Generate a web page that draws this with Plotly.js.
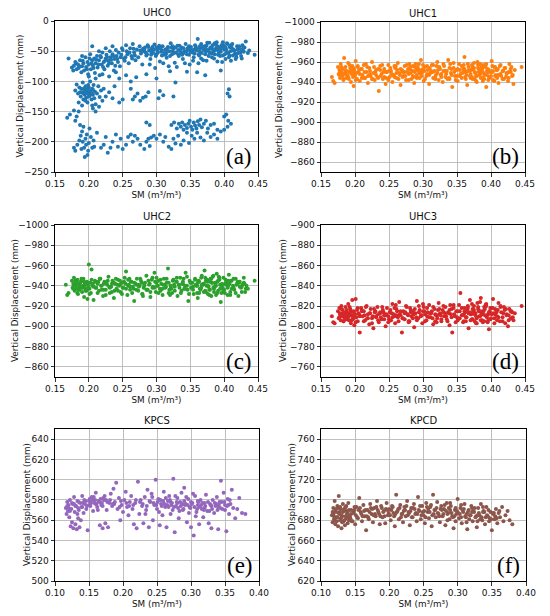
<!DOCTYPE html>
<html><head><meta charset="utf-8">
<script src="https://cdn.plot.ly/plotly-3.0.1.min.js"></script>
<style>html,body{margin:0;padding:0;background:#fff}#chart{width:550px;height:616px}</style>
</head><body><div id="chart"></div>
<script>
// ---------- data (x = SM, y = vertical displacement) ----------
const titles = ["UHC0","UHC1","UHC2","UHC3","KPCS","KPCD"];
const panelLabels = ["(a)","(b)","(c)","(d)","(e)","(f)"];
const colors = ["#1f77b4","#ff7f0e","#2ca02c","#d62728","#9467bd","#8c564b"];
const xTitle = "SM (m³/m³)";
const yTitle = "Vertical Displacement (mm)";

const uhc0Points = [
[0.250,-48],[0.252,-62],[0.255,-40],[0.257,-55],[0.259,-70],[0.261,-45],[0.263,-58],[0.265,-38],[0.267,-52],[0.269,-65],[0.271,-47],[0.273,-60],[0.275,-42],[0.277,-54],[0.279,-72],[0.281,-50],[0.283,-44],[0.285,-57],[0.287,-40],[0.289,-49],[0.291,-63],[0.293,-46],[0.295,-53],[0.297,-39],[0.299,-58],[0.301,-48],[0.303,-44],[0.305,-67],[0.307,-51],[0.309,-42],[0.311,-56],[0.313,-47],[0.315,-61],[0.317,-43],[0.319,-50],[0.321,-37],[0.323,-55],[0.325,-46],[0.327,-69],[0.329,-52],[0.331,-41],[0.333,-58],[0.335,-48],[0.337,-44],[0.339,-63],[0.341,-50],[0.343,-38],[0.345,-55],[0.347,-47],[0.349,-72],[0.351,-43],[0.353,-52],[0.355,-60],[0.357,-40],[0.359,-49],[0.361,-30],[0.363,-57],[0.365,-45],[0.367,-53],[0.369,-65],[0.371,-42],[0.373,-50],[0.375,-36],[0.377,-58],[0.379,-46],[0.381,-54],[0.383,-40],[0.385,-62],[0.387,-48],[0.389,-35],[0.391,-56],[0.393,-44],[0.395,-51],[0.397,-68],[0.399,-41],[0.401,-55],[0.403,-47],[0.405,-38],[0.407,-60],[0.409,-50],[0.411,-44],[0.413,-57],[0.415,-49],[0.417,-63],[0.419,-42],[0.421,-53],[0.423,-46],[0.425,-58],[0.427,-40],[0.429,-51],[0.432,-34],[0.435,-53],[0.437,-49],[0.445,-56],
[0.280,-46],[0.284,-52],[0.288,-43],[0.292,-50],[0.296,-47],[0.300,-55],[0.304,-41],[0.308,-49],[0.312,-53],[0.316,-45],[0.320,-58],[0.324,-50],[0.328,-44],[0.332,-48],[0.336,-53],[0.340,-45],[0.344,-50],[0.348,-42],[0.352,-48],[0.356,-54],[0.360,-46],[0.364,-50],[0.368,-43],[0.372,-55],[0.376,-48],[0.380,-44],[0.384,-51],[0.388,-45],[0.392,-49],[0.396,-40],[0.400,-47],[0.404,-52],[0.408,-43],[0.412,-49],[0.416,-54],[0.420,-47],[0.424,-52],[0.428,-45],[0.382,-60],[0.386,-37],[0.394,-58],[0.398,-35],[0.402,-63],[0.366,-62],[0.354,-66],[0.342,-70],[0.318,-75],[0.298,-78],[0.290,-72],[0.310,-70],[0.330,-76],[0.362,-70],[0.374,-66],[0.390,-67],[0.410,-66],[0.418,-60],[0.426,-62],
[0.282,-48],[0.286,-55],[0.294,-43],[0.302,-52],[0.306,-46],[0.314,-55],[0.322,-44],[0.326,-53],[0.334,-41],[0.338,-56],[0.346,-45],[0.350,-51],[0.358,-43],[0.362,-55],[0.370,-48],[0.374,-41],[0.378,-52],[0.382,-46],[0.386,-55],[0.390,-42],[0.394,-48],[0.398,-57],[0.402,-44],[0.406,-53],[0.410,-40],[0.414,-47],[0.418,-55],[0.422,-42],[0.426,-50],[0.430,-44],[0.366,-38],[0.378,-36],[0.388,-39],[0.396,-45],[0.404,-37],[0.384,-47],[0.392,-53],[0.400,-42],[0.408,-57],[0.412,-38],[0.372,-45],[0.364,-42],[0.356,-47],[0.348,-56],[0.340,-53],[0.332,-55],[0.324,-42],[0.316,-51],[0.308,-57],[0.300,-44],[0.292,-56],[0.276,-49],[0.268,-57],[0.260,-52],[0.254,-60],
[0.230,-92],[0.240,-85],[0.245,-95],[0.255,-90],[0.262,-100],[0.270,-93],[0.285,-88],[0.300,-95],[0.320,-83],[0.345,-84],[0.360,-85],[0.372,-90],[0.395,-82],
[0.170,-62],[0.175,-77],[0.177,-82],[0.178,-74],[0.180,-68],[0.182,-80],[0.184,-72],[0.185,-78],[0.187,-65],[0.189,-85],[0.190,-75],[0.192,-70],[0.193,-82],[0.195,-60],[0.196,-76],[0.198,-68],[0.199,-88],[0.200,-72],[0.202,-55],[0.203,-80],[0.205,-65],[0.206,-74],[0.208,-62],[0.209,-86],[0.210,-70],[0.212,-58],[0.213,-77],[0.215,-65],[0.216,-90],[0.218,-60],[0.219,-72],[0.220,-52],[0.222,-68],[0.223,-80],[0.225,-62],[0.226,-56],[0.228,-74],[0.229,-66],[0.231,-50],[0.232,-60],[0.234,-70],[0.235,-55],[0.237,-82],[0.238,-63],[0.240,-48],[0.241,-58],[0.243,-68],[0.244,-52],[0.246,-75],[0.247,-60],[0.249,-45],[0.205,-42],[0.215,-50],[0.225,-45],[0.235,-42],[0.190,-58],[0.210,-95],[0.220,-88],[0.200,-92],
[0.181,-70],[0.186,-75],[0.191,-66],[0.197,-80],[0.201,-62],[0.204,-70],[0.207,-78],[0.211,-64],[0.214,-72],[0.217,-58],[0.221,-76],[0.224,-66],[0.227,-60],[0.230,-70],[0.233,-64],[0.236,-58],[0.239,-74],[0.242,-63],[0.248,-56],[0.253,-66],[0.256,-50],[0.264,-62],[0.266,-46],
[0.180,-115],[0.182,-105],[0.184,-120],[0.186,-110],[0.188,-125],[0.190,-118],[0.191,-102],[0.192,-130],[0.193,-112],[0.194,-122],[0.195,-108],[0.196,-127],[0.197,-116],[0.198,-135],[0.199,-120],[0.200,-110],[0.201,-124],[0.202,-100],[0.203,-118],[0.204,-130],[0.205,-112],[0.206,-122],[0.207,-106],[0.208,-128],[0.209,-117],[0.210,-138],[0.212,-120],[0.214,-108],[0.216,-126],[0.218,-115],[0.220,-132],[0.222,-112],[0.225,-125],[0.230,-118],[0.235,-128],[0.238,-108],[0.245,-135],[0.250,-130],[0.190,-140],[0.195,-132],[0.205,-140],[0.185,-135],
[0.187,-118],[0.189,-112],[0.192,-120],[0.194,-115],[0.196,-119],[0.198,-113],[0.200,-125],[0.202,-116],[0.204,-121],[0.206,-114],[0.199,-106],
[0.262,-112],[0.265,-130],[0.268,-125],[0.272,-120],[0.276,-132],[0.280,-127],[0.284,-125],[0.288,-118],[0.303,-128],[0.305,-116],[0.310,-123],[0.325,-125],[0.328,-102],
[0.168,-160],[0.172,-155],[0.178,-148],[0.180,-165],[0.182,-158],[0.185,-150],[0.187,-172],[0.188,-190],[0.190,-183],[0.191,-200],[0.192,-175],[0.193,-210],[0.195,-195],[0.196,-205],[0.197,-188],[0.199,-215],[0.200,-202],[0.201,-178],[0.203,-192],[0.205,-210],[0.206,-145],[0.207,-198],[0.210,-150],[0.212,-185],[0.178,-210],[0.180,-215],[0.183,-205],[0.186,-198],[0.189,-212],[0.194,-225],[0.198,-222],[0.208,-208],[0.215,-142],
[0.218,-210],[0.222,-205],[0.225,-192],[0.228,-218],[0.232,-210],[0.235,-200],[0.240,-188],[0.243,-208],[0.247,-195],[0.250,-212],[0.255,-205],[0.258,-192],[0.262,-188],[0.265,-200],[0.268,-190],[0.272,-195],[0.276,-205],[0.282,-212],[0.285,-200],[0.288,-195],[0.290,-207],[0.292,-193],[0.296,-190],[0.300,-195],[0.305,-188],[0.310,-200],[0.313,-192],[0.318,-208],[0.322,-212],[0.325,-195],[0.328,-203],[0.332,-190],[0.336,-205],[0.340,-198],[0.345,-185],[0.348,-202],[0.352,-190],[0.356,-195],[0.360,-185],[0.365,-193],[0.370,-198],[0.375,-185],[0.380,-192],[0.385,-188],[0.390,-195],[0.395,-183],[0.400,-180],[0.405,-175],
[0.285,-168],[0.290,-172],[0.330,-178],[0.333,-170],[0.336,-175],[0.338,-168],[0.340,-180],[0.342,-172],[0.345,-177],[0.347,-170],[0.349,-165],[0.351,-175],[0.353,-180],[0.355,-168],[0.357,-173],[0.359,-178],[0.361,-166],[0.363,-172],[0.365,-163],[0.367,-176],[0.370,-170],[0.373,-165],[0.376,-178],[0.380,-172],[0.385,-170],[0.390,-180],[0.322,-172],[0.326,-168],
[0.400,-158],[0.403,-155],[0.405,-120],[0.407,-113],[0.408,-125],[0.410,-170],[0.406,-165]
];

const uhc1Points = [
[0.166,-945],[0.168,-941],[0.170,-939],[0.175,-955],[0.176,-948],[0.177,-952],[0.178,-944],[0.179,-958],[0.180,-950],[0.181,-946],[0.182,-953],[0.183,-942],[0.184,-964],[0.185,-949],[0.186,-955],[0.187,-944],[0.188,-951],[0.189,-947],[0.190,-959],[0.191,-943],[0.192,-950],[0.193,-954],[0.194,-940],[0.195,-948],[0.196,-956],[0.197,-945],[0.198,-936],[0.199,-952],[0.200,-946],[0.201,-961],[0.202,-949],[0.203,-943],[0.204,-955],[0.205,-950],[0.207,-941],[0.209,-953],[0.211,-947],[0.213,-957],[0.215,-944],[0.217,-950],[0.219,-939],[0.221,-954],[0.223,-946],[0.225,-960],[0.227,-949],[0.229,-942],[0.231,-952],[0.233,-945],[0.235,-931],[0.237,-956],[0.239,-948],[0.241,-943],[0.243,-953],[0.245,-938],[0.247,-950],[0.249,-957],[0.251,-945],[0.253,-951],[0.255,-940],[0.257,-947],[0.259,-954],[0.261,-944],[0.263,-959],[0.265,-949],[0.267,-937],[0.269,-952],[0.271,-946],[0.273,-956],[0.275,-942],[0.277,-950],[0.279,-948],[0.281,-955],[0.283,-943],[0.285,-951],[0.287,-939],[0.289,-958],[0.291,-947],[0.293,-953],[0.295,-944],[0.297,-962],[0.299,-950],[0.301,-941],[0.303,-955],[0.305,-946],[0.307,-952],[0.309,-938],[0.311,-949],[0.313,-957],[0.315,-944],[0.317,-951],[0.319,-947],[0.321,-960],[0.323,-942],[0.325,-953],[0.327,-948],[0.329,-940],[0.331,-956],[0.333,-945],[0.335,-951],[0.337,-962],[0.339,-943],[0.341,-949],[0.343,-935],[0.345,-954],[0.347,-946],[0.349,-952],[0.351,-941],[0.353,-958],[0.355,-948],[0.357,-944],[0.359,-953],[0.361,-965],[0.363,-950],[0.365,-937],[0.367,-955],[0.369,-946],[0.371,-952],[0.373,-943],[0.375,-959],[0.377,-949],[0.379,-940],[0.381,-954],[0.383,-947],[0.385,-951],[0.387,-944],[0.389,-957],[0.391,-948],[0.393,-935],[0.395,-953],[0.397,-945],[0.399,-950],[0.401,-961],[0.403,-942],[0.405,-955],[0.407,-947],[0.409,-952],[0.411,-939],[0.413,-956],[0.415,-946],[0.417,-951],[0.419,-943],[0.421,-954],[0.423,-948],[0.425,-941],[0.427,-958],[0.429,-950],[0.431,-946],[0.433,-938],[0.435,-952],[0.445,-955],
[0.178,-950],[0.182,-947],[0.186,-951],[0.190,-945],[0.194,-953],[0.198,-949],[0.206,-952],[0.210,-944],[0.214,-950],[0.218,-955],[0.222,-948],[0.226,-943],[0.230,-950],[0.234,-953],[0.238,-946],[0.242,-950],[0.246,-944],[0.250,-951],[0.254,-948],[0.258,-945],[0.262,-952],[0.266,-947],[0.270,-950],[0.274,-946],[0.278,-953],[0.282,-949],[0.286,-945],[0.290,-952],[0.294,-950],[0.298,-946],[0.302,-951],[0.306,-948],[0.310,-954],[0.314,-950],[0.318,-945],[0.322,-952],[0.326,-947],[0.330,-951],[0.334,-948],[0.338,-944],[0.342,-953],[0.346,-950],[0.350,-946],[0.354,-952],[0.358,-949],[0.362,-945],[0.366,-951],[0.370,-948],[0.374,-953],[0.378,-946],[0.382,-950],[0.386,-955],[0.390,-947],[0.394,-951],[0.398,-944],[0.402,-950],[0.406,-946],[0.410,-953],[0.414,-948],[0.418,-951],[0.422,-945],[0.426,-950],[0.430,-955],[0.372,-957],[0.376,-943],[0.384,-958],[0.388,-941],[0.392,-956],[0.396,-942],[0.380,-960],[0.360,-957],[0.340,-958],[0.320,-956],[0.300,-957],[0.280,-958],[0.260,-956],
[0.177,-947],[0.180,-955],[0.183,-943],[0.186,-948],[0.189,-945],[0.192,-957],[0.195,-951],[0.198,-954],[0.201,-942],[0.204,-956],[0.207,-948],[0.210,-953],[0.213,-944],[0.216,-958],[0.219,-946],[0.222,-951],[0.225,-943],[0.228,-955],[0.231,-947],[0.234,-944],[0.237,-952],[0.240,-957],[0.243,-945],[0.246,-950],[0.249,-942],[0.252,-954],[0.255,-947],[0.258,-956],[0.261,-949],[0.264,-943],[0.267,-953],[0.270,-945],[0.273,-950],[0.276,-957],[0.279,-942],[0.282,-952],[0.285,-946],[0.288,-955],[0.291,-944],[0.294,-958],[0.297,-948],[0.300,-953],[0.303,-943],[0.306,-956],[0.309,-947],[0.312,-951],[0.315,-957],[0.318,-943],[0.321,-949],[0.324,-955],[0.327,-945],[0.330,-958],[0.333,-951],[0.336,-943],[0.339,-954],[0.342,-947],[0.345,-959],[0.348,-942],[0.351,-953],[0.354,-946],[0.357,-956],[0.360,-950],[0.363,-943],[0.366,-958],[0.369,-952],[0.372,-945],[0.375,-954],[0.378,-941],[0.381,-957],[0.384,-948],[0.387,-953],[0.390,-943],[0.393,-958],[0.396,-950],[0.399,-945],[0.402,-956],[0.405,-941],[0.408,-952],[0.411,-947],[0.414,-957],[0.417,-943],[0.420,-954],[0.423,-949],[0.426,-944],[0.429,-953],[0.432,-947],
[0.361,-953],[0.364,-947],[0.367,-951],[0.370,-944],[0.373,-955],[0.376,-950],[0.379,-946],[0.382,-953],[0.385,-944],[0.388,-950],[0.391,-955],[0.394,-947],[0.397,-952],[0.400,-946],[0.403,-951],[0.406,-955],[0.409,-944],[0.292,-955],[0.295,-949],[0.298,-952],[0.291,-945],[0.288,-950],[0.285,-956]
];

const uhc2Points = [
[0.166,-941],[0.168,-931],[0.170,-933],[0.175,-945],[0.176,-938],[0.177,-942],[0.178,-948],[0.179,-935],[0.180,-940],[0.181,-944],[0.182,-937],[0.183,-946],[0.184,-932],[0.185,-941],[0.186,-936],[0.187,-943],[0.188,-939],[0.189,-947],[0.190,-934],[0.191,-940],[0.192,-945],[0.193,-929],[0.194,-938],[0.195,-942],[0.196,-936],[0.197,-944],[0.198,-927],[0.199,-940],[0.200,-961],[0.201,-937],[0.202,-943],[0.203,-933],[0.204,-956],[0.205,-940],[0.207,-926],[0.209,-945],[0.211,-938],[0.213,-942],[0.215,-935],[0.217,-947],[0.219,-940],[0.221,-930],[0.223,-944],[0.225,-936],[0.227,-941],[0.229,-949],[0.231,-933],[0.233,-939],[0.235,-945],[0.237,-928],[0.239,-942],[0.241,-937],[0.243,-946],[0.245,-940],[0.247,-934],[0.249,-943],[0.251,-938],[0.253,-948],[0.255,-954],[0.257,-931],[0.259,-941],[0.261,-936],[0.263,-944],[0.265,-939],[0.267,-925],[0.269,-942],[0.271,-947],[0.273,-935],[0.275,-940],[0.277,-945],[0.279,-932],[0.281,-938],[0.283,-943],[0.285,-950],[0.287,-936],[0.289,-941],[0.291,-929],[0.293,-946],[0.295,-939],[0.297,-953],[0.299,-934],[0.301,-940],[0.303,-945],[0.305,-937],[0.307,-942],[0.309,-931],[0.311,-947],[0.313,-938],[0.315,-943],[0.317,-957],[0.319,-936],[0.321,-940],[0.323,-933],[0.325,-946],[0.327,-939],[0.329,-944],[0.331,-930],[0.333,-941],[0.335,-948],[0.337,-935],[0.339,-942],[0.341,-937],[0.343,-953],[0.345,-940],[0.347,-925],[0.349,-945],[0.351,-938],[0.353,-943],[0.355,-932],[0.357,-947],[0.359,-940],[0.361,-928],[0.363,-944],[0.365,-936],[0.367,-950],[0.369,-941],[0.371,-955],[0.373,-934],[0.375,-946],[0.377,-939],[0.379,-944],[0.381,-930],[0.383,-949],[0.385,-937],[0.387,-942],[0.389,-952],[0.391,-935],[0.393,-946],[0.395,-924],[0.397,-940],[0.399,-948],[0.401,-933],[0.403,-943],[0.405,-938],[0.407,-951],[0.409,-931],[0.411,-945],[0.413,-940],[0.415,-936],[0.417,-947],[0.419,-942],[0.421,-930],[0.423,-944],[0.425,-938],[0.427,-941],[0.429,-948],[0.431,-934],[0.433,-940],[0.435,-937],[0.445,-945],
[0.178,-940],[0.182,-943],[0.186,-939],[0.190,-945],[0.194,-941],[0.198,-937],[0.206,-942],[0.210,-938],[0.214,-944],[0.218,-940],[0.222,-936],[0.226,-943],[0.230,-939],[0.234,-942],[0.238,-935],[0.242,-941],[0.246,-945],[0.250,-938],[0.254,-942],[0.258,-940],[0.262,-944],[0.266,-937],[0.270,-941],[0.274,-939],[0.278,-943],[0.282,-940],[0.286,-936],[0.290,-942],[0.294,-938],[0.298,-944],[0.302,-940],[0.306,-935],[0.310,-941],[0.314,-939],[0.318,-943],[0.322,-937],[0.326,-941],[0.330,-944],[0.334,-938],[0.338,-942],[0.342,-940],[0.346,-936],[0.350,-943],[0.354,-939],[0.358,-941],[0.362,-945],[0.366,-938],[0.370,-942],[0.374,-940],[0.378,-936],[0.382,-943],[0.386,-939],[0.390,-944],[0.394,-941],[0.398,-937],[0.402,-942],[0.406,-940],[0.410,-945],[0.414,-938],[0.418,-941],[0.422,-943],[0.426,-939],[0.430,-942],[0.372,-948],[0.376,-932],[0.384,-950],[0.388,-931],[0.392,-949],[0.396,-933],[0.380,-947],[0.360,-933],[0.340,-947],[0.320,-931],[0.300,-948],[0.280,-930],[0.260,-947],
[0.177,-937],[0.180,-945],[0.183,-933],[0.186,-942],[0.189,-938],[0.192,-947],[0.195,-935],[0.198,-943],[0.201,-932],[0.204,-946],[0.207,-939],[0.210,-944],[0.213,-933],[0.216,-947],[0.219,-936],[0.222,-942],[0.225,-931],[0.228,-945],[0.231,-938],[0.234,-934],[0.237,-943],[0.240,-947],[0.243,-935],[0.246,-941],[0.249,-932],[0.252,-944],[0.255,-937],[0.258,-946],[0.261,-939],[0.264,-933],[0.267,-943],[0.270,-936],[0.273,-941],[0.276,-947],[0.279,-932],[0.282,-942],[0.285,-936],[0.288,-945],[0.291,-934],[0.294,-948],[0.297,-938],[0.300,-943],[0.303,-933],[0.306,-946],[0.309,-937],[0.312,-941],[0.315,-947],[0.318,-933],[0.321,-939],[0.324,-945],[0.327,-935],[0.330,-948],[0.333,-941],[0.336,-933],[0.339,-944],[0.342,-937],[0.345,-949],[0.348,-932],[0.351,-943],[0.354,-936],[0.357,-946],[0.360,-940],[0.363,-933],[0.366,-948],[0.369,-942],[0.372,-935],[0.375,-944],[0.378,-931],[0.381,-947],[0.384,-938],[0.387,-943],[0.390,-933],[0.393,-948],[0.396,-940],[0.399,-935],[0.402,-946],[0.405,-931],[0.408,-942],[0.411,-937],[0.414,-947],[0.417,-933],[0.420,-944],[0.423,-939],[0.426,-934],[0.429,-943],[0.432,-937],
[0.361,-943],[0.364,-937],[0.367,-941],[0.370,-934],[0.373,-945],[0.376,-940],[0.379,-936],[0.382,-943],[0.385,-934],[0.388,-940],[0.391,-945],[0.394,-937],[0.397,-942],[0.400,-936],[0.403,-941],[0.406,-945],[0.409,-934],[0.182,-941],[0.185,-936],[0.188,-944],[0.191,-938],[0.194,-943],[0.197,-935]
];

const uhc3Points = [
[0.166,-810],[0.168,-804],[0.170,-803],[0.175,-815],[0.176,-808],[0.177,-818],[0.178,-812],[0.179,-806],[0.180,-820],[0.181,-811],[0.182,-816],[0.183,-805],[0.184,-813],[0.185,-809],[0.186,-819],[0.187,-807],[0.188,-814],[0.189,-810],[0.190,-822],[0.191,-806],[0.192,-813],[0.193,-817],[0.194,-803],[0.195,-811],[0.196,-826],[0.197,-808],[0.198,-815],[0.199,-801],[0.200,-812],[0.201,-827],[0.202,-809],[0.203,-816],[0.204,-805],[0.205,-813],[0.207,-794],[0.209,-818],[0.211,-810],[0.213,-815],[0.215,-806],[0.217,-820],[0.219,-812],[0.221,-802],[0.223,-817],[0.225,-808],[0.227,-798],[0.229,-814],[0.231,-809],[0.233,-819],[0.235,-804],[0.237,-813],[0.239,-807],[0.241,-816],[0.243,-811],[0.245,-800],[0.247,-818],[0.249,-810],[0.251,-814],[0.253,-806],[0.255,-822],[0.257,-812],[0.259,-803],[0.261,-817],[0.263,-809],[0.265,-824],[0.267,-811],[0.269,-794],[0.271,-815],[0.273,-807],[0.275,-820],[0.277,-812],[0.279,-805],[0.281,-818],[0.283,-810],[0.285,-815],[0.287,-799],[0.289,-813],[0.291,-825],[0.293,-808],[0.295,-816],[0.297,-811],[0.299,-803],[0.301,-819],[0.303,-812],[0.305,-806],[0.307,-814],[0.309,-821],[0.311,-809],[0.313,-815],[0.315,-802],[0.317,-817],[0.319,-811],[0.321,-808],[0.323,-823],[0.325,-813],[0.327,-805],[0.329,-816],[0.331,-810],[0.333,-819],[0.335,-807],[0.337,-814],[0.339,-801],[0.341,-812],[0.343,-794],[0.345,-818],[0.347,-810],[0.349,-815],[0.351,-806],[0.353,-821],[0.355,-833],[0.357,-811],[0.359,-804],[0.361,-818],[0.363,-809],[0.365,-816],[0.367,-798],[0.369,-826],[0.371,-812],[0.373,-807],[0.375,-820],[0.377,-813],[0.379,-803],[0.381,-817],[0.383,-810],[0.385,-828],[0.387,-806],[0.389,-815],[0.391,-811],[0.393,-822],[0.395,-804],[0.397,-797],[0.399,-818],[0.401,-812],[0.403,-827],[0.405,-808],[0.407,-816],[0.409,-810],[0.411,-823],[0.413,-805],[0.415,-814],[0.417,-809],[0.419,-819],[0.421,-803],[0.423,-812],[0.425,-800],[0.427,-817],[0.429,-808],[0.431,-814],[0.433,-806],[0.435,-813],[0.445,-820],
[0.178,-813],[0.182,-810],[0.186,-814],[0.190,-811],[0.194,-815],[0.198,-809],[0.206,-812],[0.210,-816],[0.214,-811],[0.218,-808],[0.222,-813],[0.226,-810],[0.230,-815],[0.234,-812],[0.238,-809],[0.242,-814],[0.246,-811],[0.250,-807],[0.254,-813],[0.258,-810],[0.262,-815],[0.266,-812],[0.270,-808],[0.274,-814],[0.278,-811],[0.282,-816],[0.286,-812],[0.290,-809],[0.294,-814],[0.298,-811],[0.302,-815],[0.306,-810],[0.310,-813],[0.314,-808],[0.318,-812],[0.322,-816],[0.326,-811],[0.330,-814],[0.334,-810],[0.338,-813],[0.342,-817],[0.346,-812],[0.350,-809],[0.354,-815],[0.358,-811],[0.362,-814],[0.366,-818],[0.370,-812],[0.374,-815],[0.378,-810],[0.382,-816],[0.386,-813],[0.390,-819],[0.394,-811],[0.398,-815],[0.402,-818],[0.406,-812],[0.410,-816],[0.414,-820],[0.418,-813],[0.422,-817],[0.426,-811],[0.430,-815],[0.372,-822],[0.376,-805],[0.384,-824],[0.388,-804],[0.392,-821],[0.396,-806],[0.380,-823],[0.360,-805],[0.340,-821],[0.320,-804],[0.300,-822],[0.280,-805],[0.260,-821],
[0.177,-809],[0.180,-817],[0.183,-805],[0.186,-812],[0.189,-808],[0.192,-819],[0.195,-806],[0.198,-814],[0.201,-804],[0.204,-818],[0.207,-810],[0.210,-815],[0.213,-805],[0.216,-819],[0.219,-808],[0.222,-813],[0.225,-803],[0.228,-817],[0.231,-810],[0.234,-806],[0.237,-814],[0.240,-819],[0.243,-807],[0.246,-812],[0.249,-804],[0.252,-816],[0.255,-809],[0.258,-818],[0.261,-811],[0.264,-805],[0.267,-815],[0.270,-808],[0.273,-813],[0.276,-819],[0.279,-804],[0.282,-814],[0.285,-808],[0.288,-817],[0.291,-806],[0.294,-820],[0.297,-810],[0.300,-815],[0.303,-805],[0.306,-818],[0.309,-809],[0.312,-813],[0.315,-819],[0.318,-805],[0.321,-811],[0.324,-817],[0.327,-807],[0.330,-820],[0.333,-813],[0.336,-805],[0.339,-816],[0.342,-809],[0.345,-821],[0.348,-804],[0.351,-815],[0.354,-808],[0.357,-818],[0.360,-812],[0.363,-805],[0.366,-820],[0.369,-814],[0.372,-807],[0.375,-816],[0.378,-803],[0.381,-819],[0.384,-810],[0.387,-815],[0.390,-805],[0.393,-820],[0.396,-812],[0.399,-807],[0.402,-818],[0.405,-803],[0.408,-814],[0.411,-809],[0.414,-819],[0.417,-805],[0.420,-816],[0.423,-811],[0.426,-806],[0.429,-815],[0.432,-809],
[0.361,-815],[0.364,-809],[0.367,-813],[0.370,-806],[0.373,-817],[0.376,-812],[0.379,-808],[0.382,-815],[0.385,-806],[0.388,-812],[0.391,-817],[0.394,-809],[0.397,-814],[0.400,-808],[0.403,-813],[0.406,-817],[0.409,-806],[0.182,-813],[0.185,-808],[0.188,-816],[0.191,-810],[0.194,-815],[0.197,-807]
];

const kpcsPoints = [
[0.116,572],[0.117,566],[0.118,578],[0.119,569],[0.120,575],[0.121,563],[0.122,580],[0.123,554],[0.124,571],[0.125,558],[0.126,576],[0.127,552],[0.128,583],[0.129,568],[0.130,556],[0.131,574],[0.132,551],[0.133,579],[0.134,562],[0.135,570],[0.136,553],[0.137,577],[0.138,560],[0.139,573],[0.140,584],[0.142,567],[0.144,576],[0.146,571],[0.148,550],[0.150,579],[0.152,574],[0.154,583],[0.156,569],[0.158,577],[0.160,587],[0.162,573],[0.164,579],[0.166,555],[0.168,575],[0.170,552],[0.172,580],[0.174,557],[0.176,570],[0.178,553],[0.180,577],[0.182,586],[0.184,574],[0.186,591],[0.188,578],[0.190,597],[0.192,571],[0.194,582],[0.196,560],[0.198,575],[0.200,568],[0.202,580],[0.204,588],[0.206,573],[0.208,565],[0.210,578],[0.212,584],[0.214,571],[0.216,556],[0.218,577],[0.220,552],[0.222,598],[0.224,566],[0.226,580],[0.228,574],[0.230,557],[0.232,583],[0.234,570],[0.236,590],[0.238,553],[0.240,578],[0.242,586],[0.244,560],[0.246,575],[0.248,600],[0.250,571],[0.252,581],[0.254,555],[0.256,576],[0.258,565],[0.260,588],[0.262,573],[0.264,553],[0.266,579],[0.268,584],[0.270,566],[0.272,577],[0.274,601],[0.276,548],[0.278,574],[0.280,582],[0.282,562],[0.284,578],[0.286,587],[0.288,570],[0.290,592],[0.292,576],[0.294,558],[0.296,581],[0.298,573],[0.300,553],[0.302,577],[0.304,545],[0.306,584],[0.308,568],[0.310,575],[0.312,556],[0.314,580],[0.316,571],[0.318,563],[0.320,577],[0.322,585],[0.324,569],[0.326,557],[0.328,576],[0.330,552],[0.332,580],[0.334,567],[0.336,574],[0.338,583],[0.340,551],[0.342,578],[0.344,599],[0.346,571],[0.348,587],[0.350,575],[0.352,549],[0.354,581],[0.356,566],[0.358,576],[0.360,590],[0.362,572],[0.365,562],[0.368,571],[0.371,582],[0.375,567],[0.380,566],
[0.120,572],[0.125,577],[0.130,574],[0.135,578],[0.140,573],[0.145,579],[0.150,575],[0.155,580],[0.160,576],[0.165,578],[0.170,574],[0.175,580],[0.185,576],[0.195,573],[0.205,577],[0.215,575],[0.225,578],[0.235,574],[0.245,577],[0.255,580],[0.265,575],[0.270,578],[0.275,573],[0.280,577],[0.285,574],[0.290,579],[0.295,575],[0.300,578],[0.305,573],[0.310,579],[0.315,575],[0.320,572],[0.325,578],[0.330,574],[0.335,577],[0.340,573],[0.345,578],[0.350,570],[0.355,575],[0.277,584],[0.283,569],[0.293,583],[0.297,567],[0.303,586],[0.307,564],[0.263,582],[0.253,568],[0.243,583],[0.233,566],[0.157,583],[0.163,570],[0.173,584],[0.143,580],[0.133,566],
[0.118,574],[0.122,569],[0.128,576],[0.134,572],[0.141,577],[0.147,574],[0.151,581],[0.153,577],[0.159,580],[0.161,576],[0.167,581],[0.169,577],[0.171,582],[0.177,578],[0.181,580],[0.187,576],[0.197,579],[0.209,574],[0.219,580],[0.229,576],[0.239,579],[0.249,575],[0.251,578],[0.257,574],[0.259,579],[0.261,576],[0.267,573],[0.269,580],[0.271,575],[0.273,570],[0.279,578],[0.281,572],[0.287,576],[0.289,571],[0.291,575],[0.299,572],[0.301,576],[0.309,571],[0.311,578],[0.313,573],[0.317,577],[0.319,570],[0.321,574],[0.327,569],[0.329,575],[0.331,571],[0.337,576],[0.339,570],[0.341,575],[0.343,572],[0.349,578],[0.353,574],[0.357,580]
];

const kpcdPoints = [
[0.116,685],[0.117,678],[0.118,692],[0.119,681],[0.120,699],[0.121,676],[0.122,688],[0.123,683],[0.124,694],[0.125,674],[0.126,704],[0.127,686],[0.128,680],[0.129,691],[0.130,672],[0.131,684],[0.132,696],[0.133,679],[0.134,689],[0.135,675],[0.136,693],[0.137,682],[0.138,686],[0.139,677],[0.140,697],[0.142,684],[0.144,690],[0.146,679],[0.148,687],[0.150,676],[0.152,693],[0.154,682],[0.156,702],[0.158,688],[0.160,679],[0.162,695],[0.164,684],[0.166,670],[0.168,690],[0.170,681],[0.172,696],[0.174,686],[0.176,678],[0.178,692],[0.180,684],[0.182,699],[0.184,688],[0.186,676],[0.188,694],[0.190,683],[0.192,689],[0.194,677],[0.196,697],[0.198,685],[0.200,691],[0.202,680],[0.204,694],[0.206,687],[0.208,674],[0.210,705],[0.212,689],[0.214,681],[0.216,695],[0.218,686],[0.220,678],[0.222,693],[0.224,684],[0.226,699],[0.228,688],[0.230,675],[0.232,692],[0.234,683],[0.236,696],[0.238,686],[0.240,679],[0.242,703],[0.244,689],[0.246,681],[0.248,694],[0.250,685],[0.252,677],[0.254,697],[0.256,688],[0.258,682],[0.260,693],[0.262,674],[0.264,705],[0.266,690],[0.268,683],[0.270,698],[0.272,686],[0.274,678],[0.276,694],[0.278,684],[0.280,691],[0.282,675],[0.284,697],[0.286,687],[0.288,681],[0.290,694],[0.292,684],[0.294,672],[0.296,690],[0.298,686],[0.300,701],[0.302,682],[0.304,692],[0.306,677],[0.308,688],[0.310,696],[0.312,683],[0.314,671],[0.316,690],[0.318,685],[0.320,694],[0.322,679],[0.324,688],[0.326,683],[0.328,673],[0.330,692],[0.332,685],[0.334,696],[0.336,680],[0.338,689],[0.340,676],[0.342,693],[0.344,684],[0.346,679],[0.348,688],[0.350,670],[0.352,686],[0.354,681],[0.356,691],[0.358,677],[0.360,687],[0.362,683],[0.365,693],[0.367,679],[0.370,685],[0.373,689],[0.376,680],[0.380,676],
[0.118,686],[0.121,690],[0.124,683],[0.127,688],[0.130,685],[0.133,690],[0.136,684],[0.139,687],[0.143,682],[0.147,689],[0.151,685],[0.155,690],[0.159,686],[0.163,689],[0.167,684],[0.171,688],[0.175,691],[0.179,686],[0.183,690],[0.187,684],[0.191,688],[0.195,691],[0.199,687],[0.203,690],[0.207,684],[0.211,688],[0.215,692],[0.219,686],[0.223,690],[0.227,685],[0.231,689],[0.235,692],[0.239,687],[0.243,690],[0.247,685],[0.251,689],[0.255,693],[0.259,688],[0.263,685],[0.267,690],[0.271,687],[0.275,691],[0.279,686],[0.283,689],[0.287,692],[0.291,687],[0.295,684],[0.299,689],[0.303,686],[0.307,690],[0.311,684],[0.315,688],[0.319,685],[0.323,689],[0.327,684],[0.331,687],[0.335,683],[0.339,688],[0.343,685],[0.347,682],[0.351,687],[0.355,684],[0.120,680],[0.125,692],[0.131,678],[0.137,694],[0.141,680],[0.149,693],[0.285,680],[0.289,697],[0.297,679],[0.305,695],[0.313,678],[0.321,692],[0.329,679],[0.337,693],
[0.117,688],[0.119,684],[0.122,691],[0.123,679],[0.126,687],[0.128,693],[0.129,682],[0.132,688],[0.134,680],[0.135,692],[0.138,689],[0.140,683],[0.141,690],[0.144,686],[0.145,679],[0.149,690],[0.153,683],[0.157,692],[0.161,684],[0.165,690],[0.169,683],[0.173,692],[0.177,685],[0.181,693],[0.185,686],[0.189,692],[0.193,684],[0.197,690],[0.201,685],[0.205,693],[0.209,686],[0.213,691],[0.217,683],[0.221,689],[0.225,694],[0.229,687],[0.233,683],[0.237,691],[0.241,686],[0.245,694],[0.249,688],[0.253,683],[0.257,691],[0.261,695],[0.265,686],[0.269,692],[0.273,684],[0.277,690],[0.281,695],[0.285,686],[0.289,690],[0.293,683],[0.297,692],[0.301,687],[0.305,683],[0.309,691],[0.313,686],[0.317,681],[0.321,688],[0.325,692],[0.329,685],[0.333,681],[0.337,688],[0.341,683],[0.345,690],[0.349,681],[0.353,687],[0.357,682],[0.361,689]
];

// axis ranges / ticks (y ranges given bottom -> top, as drawn)
const xRanges = [[0.15,0.45],[0.15,0.45],[0.15,0.45],[0.15,0.45],[0.10,0.40],[0.10,0.40]];
const yRanges = [[-250,0],[-850,-1000],[-850,-1000],[-750,-900],[500,650],[620,770]];
const yTickStep = [50,20,20,20,20,20];
const yTickStart = [-250,-1000,-1000,-900,500,620];
const yTickEnd = [0,-860,-860,-760,640,760];

const allPoints = [uhc0Points,uhc1Points,uhc2Points,uhc3Points,kpcsPoints,kpcdPoints];

// ---------- layout (pixel boxes of each plot area in the 550x616 canvas) ----------
const W = 550, H = 616;
const boxes = [
  [55,258,21,172],[321,525,22,172],
  [55,258,225,377],[321,525,225,377],
  [55,259,429,581],[321,526,429,581]
];
const yTitleX = [20,279,15,283,27,292];
const baseFont = "DejaVu Sans, sans-serif";
const traces = [];
const layout = {
  width: W, height: H, margin:{l:0,r:0,t:0,b:0},
  paper_bgcolor:"#fff", plot_bgcolor:"#fff", showlegend:false,
  font:{family:baseFont, size:9, color:"#000"},
  annotations:[]
};
allPoints.forEach((pts,i)=>{
  const n = i===0 ? "" : String(i+1);
  const b = boxes[i];
  traces.push({
    type:"scatter", mode:"markers",
    x: pts.map(p=>p[0]), y: pts.map(p=>p[1]),
    xaxis:"x"+n, yaxis:"y"+n,
    marker:{color:colors[i], size:4, line:{width:0}},
    hoverinfo:"skip"
  });
  const xd = [b[0]/W, b[1]/W];
  const yd = [1-b[3]/H, 1-b[2]/H];
  const yt = [];
  for (let v=yTickStart[i]; v<=yTickEnd[i]; v+=yTickStep[i]) yt.push(v);
  const common = {showline:true, mirror:true, linecolor:"#000", linewidth:1,
    showgrid:true, gridcolor:"#b0b0b0", gridwidth:0.8, zeroline:false,
    ticks:"outside", ticklen:3.5, tickwidth:0.8, tickcolor:"#000",
    tickfont:{family:baseFont, size:9, color:"#111"}};
  layout["xaxis"+n] = Object.assign({}, common, {
    domain:xd, anchor:"y"+n, range:xRanges[i], dtick:0.05, tick0:0, tickformat:".2f",
    title:{text:xTitle, font:{family:baseFont,size:8.8,color:"#111"}, standoff:3}
  });
  layout["yaxis"+n] = Object.assign({}, common, {
    domain:yd, anchor:"x"+n, range:yRanges[i], tickmode:"array", tickvals:yt,
    ticktext: yt.map(v=> v<0 ? "\u2212"+Math.abs(v) : String(v))
  });
  layout.annotations.push({
    xref:"paper", yref:"paper", x:yTitleX[i]/W, y:(yd[0]+yd[1])/2,
    xanchor:"center", yanchor:"middle", textangle:-90, showarrow:false,
    text:yTitle, font:{family:baseFont,size:8.8,color:"#111"}
  });
  layout.annotations.push({
    xref:"paper", yref:"paper", x:(xd[0]+xd[1])/2, y:yd[1]+1/H,
    xanchor:"center", yanchor:"bottom", showarrow:false,
    text:titles[i], font:{family:baseFont,size:10,color:"#111"}
  });
  layout.annotations.push({
    xref:"paper", yref:"paper", x:xd[1]-4/W, y:yd[0]+1/H,
    xanchor:"right", yanchor:"bottom", showarrow:false,
    text:panelLabels[i], font:{family:"Liberation Serif, Times New Roman, serif",size:23,color:"#000"}
  });
});
Plotly.newPlot("chart", traces, layout, {staticPlot:true, displayModeBar:false});
</script></body></html>
